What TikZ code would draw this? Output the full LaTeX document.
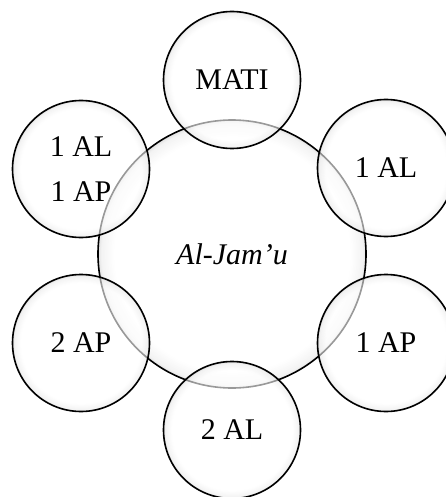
\documentclass[tikz,border=0pt]{standalone}
\usepackage{fontspec}
\setmainfont{Liberation Serif}
\pgfdeclareradialshading{glow}{\pgfpoint{0bp}{0bp}}{color(0bp)=(white); color(22bp)=(white); color(24.4bp)=(black!8); color(25bp)=(black!20); color(50bp)=(black!20)}

\begin{document}
\begin{tikzpicture}[x=1pt,y=-1pt,
  ring/.style={circle,draw=black,line width=1.6pt,shading=glow,fill opacity=0.6,text opacity=1,
    font=\fontsize{30}{45}\selectfont,align=center,inner sep=0pt},
  hub/.style={ring,draw=none,minimum size=268pt},
  sat/.style={ring,minimum size=137pt}]
\useasboundingbox (0,0) rectangle (445,497);
\node [hub] (jam) at (232,254) {\textit{Al-Jam’u}};
\draw [line width=1.6pt] (jam.center) circle [radius=134pt];
\node [sat] (mati) at (232,80) {MATI};
\node [sat] (lu) at (81,169) {1 AL\\1 AP};
\node [sat] (ru) at (386,168) {1 AL};
\node [sat] (ld) at (81,343) {2 AP};
\node [sat] (rd) at (386,343) {1 AP};
\node [sat] (bot) at (232,430) {2 AL};
\end{tikzpicture}
\end{document}
